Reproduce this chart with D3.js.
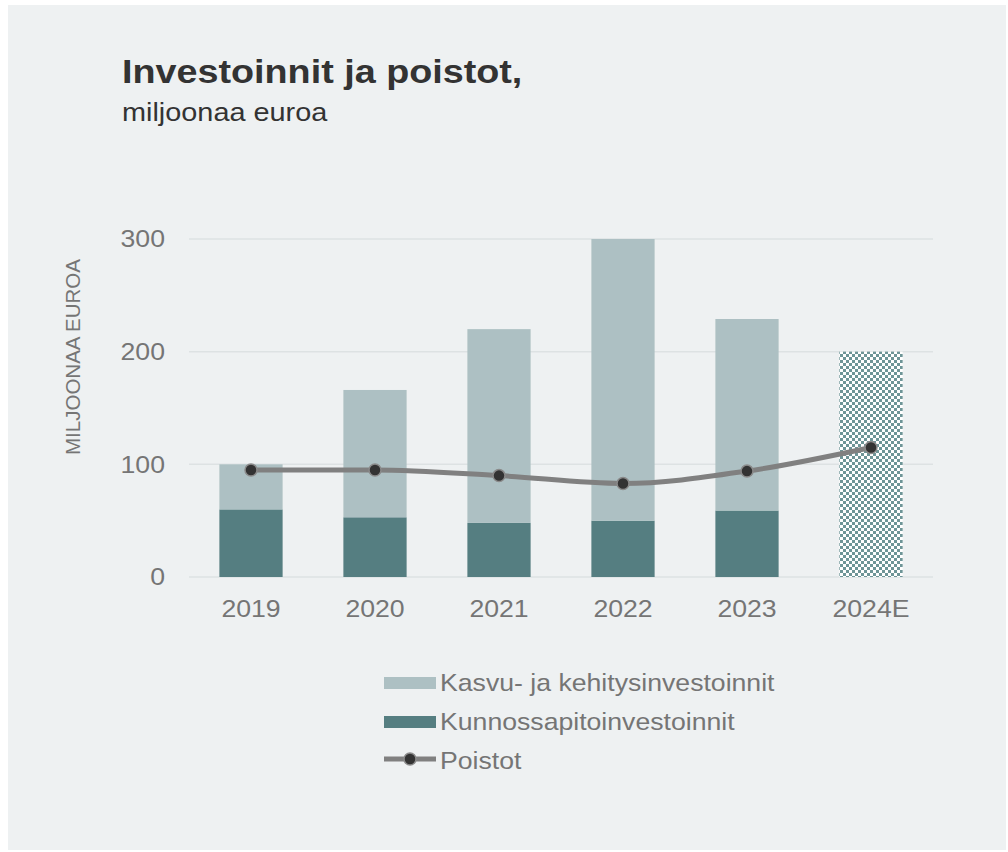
<!DOCTYPE html>
<html>
<head>
<meta charset="utf-8">
<script src="https://cdn.jsdelivr.net/npm/d3@7"></script>
<style>
  body { margin: 0; background: #fff; font-family: "Liberation Sans", Arial, sans-serif; }
</style>
</head>
<body>
<div id="chart"></div>
<script>
// Data
const years = ['2019', '2020', '2021', '2022', '2023', '2024E'];
const maintenance = [60, 53, 48, 50, 59, null];
const growth = [40, 113, 172, 250, 170, null];
const estimateTotal = [null, null, null, null, null, 200];
const depreciation = [95, 95, 90, 83, 94, 115];
const yTicks = [0, 100, 200, 300];

const width = 1008, height = 852;
const stretch = 1.11; // text in the original is a little wide
const colors = { growth: '#adc0c3', maint: '#557e81', line: '#808080', dot: '#333333', text: '#757575' };

const svg = d3.select('#chart').append('svg')
  .attr('width', width)
  .attr('height', height);

// ✅ Helper: horizontally stretched text
function label(parent, x, y, str, size, opts = {}) {
  const g = parent.append('g')
    .attr('transform', `translate(${x},${y}) scale(${stretch},1)`);
  return g.append('text')
    .attr('font-size', size)
    .attr('font-weight', opts.weight || 'normal')
    .attr('fill', opts.fill || colors.text)
    .attr('text-anchor', opts.anchor || 'start')
    .attr('dy', opts.dy || null)
    .text(str);
}

// pattern for the estimate bar
const defs = svg.append('defs');
const pat = defs.append('pattern')
  .attr('id', 'checker')
  .attr('patternUnits', 'userSpaceOnUse')
  .attr('width', 6).attr('height', 6);
pat.append('rect').attr('width', 6).attr('height', 6).attr('fill', '#ffffff');
pat.append('rect').attr('width', 3).attr('height', 3).attr('fill', '#6e9597');
pat.append('rect').attr('x', 3).attr('y', 3).attr('width', 3).attr('height', 3).attr('fill', '#6e9597');

// background panel
svg.append('rect')
  .attr('x', 8).attr('y', 5)
  .attr('width', 998).attr('height', 845)
  .attr('fill', '#eef1f2');

// ✅ Title
label(svg, 122, 83, 'Investoinnit ja poistot,', 34, { weight: 'bold', fill: '#333' });
label(svg, 122, 121, 'miljoonaa euroa', 26, { fill: '#333' });

// ✅ Scales
const x = d3.scaleBand().domain(years).range([189, 933]).paddingInner(0.49).paddingOuter(0.245);
const y = d3.scaleLinear().domain([0, 300]).range([577, 239]);

// gridlines
svg.append('g').selectAll('line')
  .data(yTicks)
  .join('line')
  .attr('x1', 189).attr('x2', 933)
  .attr('y1', d => y(d)).attr('y2', d => y(d))
  .attr('stroke', '#dde2e3').attr('stroke-width', 1.5);

// y axis labels (ticks from the scale)
yTicks.forEach(t => label(svg, 165, y(t), d3.format('d')(t), 24, { anchor: 'end', dy: '0.35em' }));

svg.append('text')
  .attr('transform', 'translate(80,357) rotate(-90)')
  .attr('text-anchor', 'middle')
  .attr('font-size', 20.5).attr('fill', colors.text)
  .text('MILJOONAA EUROA');

// x axis labels
years.forEach(yr => label(svg, x(yr) + x.bandwidth() / 2, 617, yr, 24, { anchor: 'middle' }));

// ✅ Bars
const bars = svg.append('g');
bars.selectAll('.maint')
  .data(years.map((yr, i) => ({ yr, v: maintenance[i] })).filter(d => d.v != null))
  .join('rect')
  .attr('class', 'maint')
  .attr('x', d => x(d.yr)).attr('width', x.bandwidth())
  .attr('y', d => y(d.v)).attr('height', d => y(0) - y(d.v))
  .attr('fill', colors.maint);

bars.selectAll('.growth')
  .data(years.map((yr, i) => ({ yr, lo: maintenance[i], v: growth[i] })).filter(d => d.v != null))
  .join('rect')
  .attr('class', 'growth')
  .attr('x', d => x(d.yr)).attr('width', x.bandwidth())
  .attr('y', d => y(d.lo + d.v)).attr('height', d => y(d.lo) - y(d.lo + d.v))
  .attr('fill', colors.growth);

bars.selectAll('.est')
  .data(years.map((yr, i) => ({ yr, v: estimateTotal[i] })).filter(d => d.v != null))
  .join('rect')
  .attr('class', 'est')
  .attr('x', d => x(d.yr)).attr('width', x.bandwidth())
  .attr('y', d => y(d.v)).attr('height', d => y(0) - y(d.v))
  .attr('fill', 'url(#checker)');

// ✅ Depreciation line
const lineData = years.map((yr, i) => ({ yr, v: depreciation[i] }));
const line = d3.line()
  .x(d => x(d.yr) + x.bandwidth() / 2)
  .y(d => y(d.v))
  .curve(d3.curveMonotoneX);

svg.append('path')
  .datum(lineData)
  .attr('d', line)
  .attr('fill', 'none')
  .attr('stroke', colors.line)
  .attr('stroke-width', 5);

svg.append('g').selectAll('circle')
  .data(lineData)
  .join('circle')
  .attr('cx', d => x(d.yr) + x.bandwidth() / 2)
  .attr('cy', d => y(d.v))
  .attr('r', 6)
  .attr('fill', colors.dot)
  .attr('stroke', '#8a8a8a')
  .attr('stroke-width', 1.5);

// ✅ Legend
const legend = svg.append('g').attr('transform', 'translate(384,0)');
const legendItems = [
  { label: 'Kasvu- ja kehitysinvestoinnit', color: colors.growth, type: 'rect', y: 691 },
  { label: 'Kunnossapitoinvestoinnit', color: colors.maint, type: 'rect', y: 730 },
  { label: 'Poistot', color: colors.line, type: 'line', y: 769 }
];
legendItems.forEach(item => {
  const cy = item.y - 8;
  if (item.type === 'rect') {
    legend.append('rect')
      .attr('x', 0).attr('y', cy - 6)
      .attr('width', 52).attr('height', 12)
      .attr('fill', item.color);
  } else {
    legend.append('line')
      .attr('x1', 0).attr('x2', 52)
      .attr('y1', cy - 2).attr('y2', cy - 2)
      .attr('stroke', item.color).attr('stroke-width', 5);
    legend.append('circle')
      .attr('cx', 26).attr('cy', cy - 2).attr('r', 6)
      .attr('fill', colors.dot).attr('stroke', '#8a8a8a').attr('stroke-width', 1.5);
  }
  label(legend, 56, item.y, item.label, 24);
});
</script>
</body>
</html>
